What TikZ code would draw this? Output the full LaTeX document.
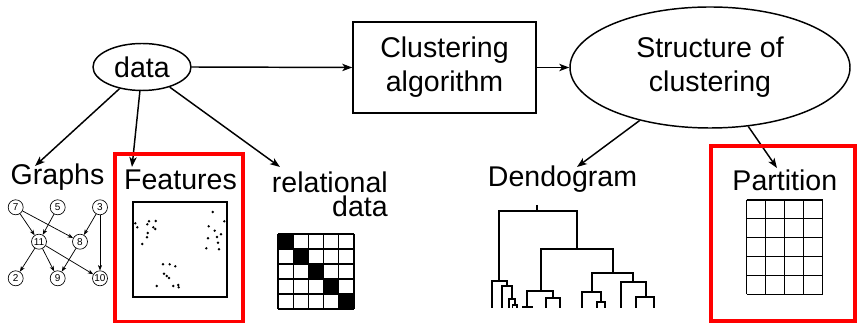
\documentclass[tikz,border=0pt]{standalone}
\usepackage{fontspec}
\setmainfont{Liberation Sans}
\usetikzlibrary{shapes.geometric,arrows.meta}
\begin{document}
\begin{tikzpicture}[x=0.75pt,y=-0.75pt,
  big/.style={font=\fontsize{21.4}{25.5}\selectfont, inner sep=0pt},
  flow/.style={line width=1.1pt, -{Stealth[length=7.5pt,width=5.5pt,inset=2pt]}},
  gnode/.style={circle, draw, line width=0.5pt, minimum size=11.25pt, inner sep=0pt,
                font=\fontsize{7.5}{9}\selectfont},
  gedge/.style={line width=0.55pt, -{Stealth[length=4pt,width=3pt,inset=1pt]}},
  hilite/.style={draw=red, line width=3pt},
  tree/.style={line width=1.3pt},
  grid/.style={line width=0.9pt}
]
\useasboundingbox (0,0) rectangle (860,323);

% ---- top row: pipeline ----
\node[big, ellipse, draw, line width=1.1pt, minimum width=73.5pt, minimum height=35.25pt]
  (data) at (142,67) {data};
\node[big, draw, line width=1.1pt, minimum width=137.25pt, minimum height=68.25pt, align=center]
  (algo) at (444.5,67.5) {Clustering\\algorithm};
\node[big, ellipse, draw, line width=1.1pt, minimum width=210pt, minimum height=90.75pt, align=center]
  (struct) at (710,67.5) {Structure of\\clustering};

\draw[flow] (data.east) -- (algo.west);
\draw[flow] (algo.east) -- (struct.west);

% ---- data representations ----
\node[big, anchor=base] (graphs) at (57.5,185) {Graphs};
\node[big, anchor=base] (features) at (180.5,190) {Features};
\node[big, align=right, font=\fontsize{21.4}{18.5}\selectfont, anchor=base east]
  (rel) at (388,217) {relational\\data};

\coordinate (tipG) at (35,166);
\coordinate (tipF) at (132,167);
\coordinate (tipR) at (280,167);
\draw[flow] (data.224) -- (tipG);
\draw[flow] (data.265) -- (tipF);
\draw[flow] (data.-36) -- (tipR);

% ---- clustering structures ----
\node[big, anchor=base] (dendo) at (562.5,187) {Dendogram};
\node[big, anchor=base] (part) at (784.8,190.7) {Partition};
\coordinate (tipD) at (577,167);
\coordinate (tipP) at (777,168);
\draw[flow] (struct.217) -- (tipD);
\draw[flow] (struct.-57) -- (tipP);

% ---- highlight frames ----
\draw[hilite] (114.7,154.5) rectangle (242.8,322);
\draw[hilite] (711,146.2) rectangle (855,321.2);

% ---- small directed graph ----
\node[gnode] (g7)  at (15.7,207.3) {7};
\node[gnode] (g5)  at (57.7,207.3) {5};
\node[gnode] (g3)  at (100,207.3) {3};
\node[gnode] (g11) at (39,241.7) {11};
\node[gnode] (g8)  at (80,241.7) {8};
\node[gnode] (g2)  at (15.7,278.3) {2};
\node[gnode] (g9)  at (57.7,278.3) {9};
\node[gnode] (g10) at (100,278.3) {10};
\draw[gedge] (g7) -- (g11);
\draw[gedge] (g7) -- (g8);
\draw[gedge] (g5) -- (g11);
\draw[gedge] (g3) -- (g8);
\draw[gedge] (g3) -- (g10);
\draw[gedge] (g11) -- (g2);
\draw[gedge] (g11) -- (g9);
\draw[gedge] (g11) -- (g10);
\draw[gedge] (g8) -- (g9);

% ---- feature scatter plot ----
\draw[line width=1pt] (133,202) rectangle (227,297);
\foreach \px/\py in {135.3/223.3, 137.3/227.3, 147.3/224.3, 149/221.3, 155.7/221,
    153.3/227.3, 155.3/229, 147.7/233, 147/237.3, 142.3/244,
    212.7/212, 224.3/221.3, 208.7/226.3, 214.7/230.7, 221/234.3, 217/237,
    208/238.3, 218/242.7, 206.3/248.3, 219/249.3,
    163/264.3, 169.7/264.3, 175.3/266.3, 164/273.7, 166.7/276, 169/278,
    156.7/286, 173.3/286, 178.3/285, 178.7/287.3}
  \fill (\px,\py) circle[radius=1pt];

% ---- relational (similarity) matrix ----
\foreach \i in {0,...,4}
  \fill (278+15.2*\i,234+15*\i) rectangle ++(15.2,15);
\foreach \i in {0,...,5} {
  \draw[grid] (278,234+15*\i) -- (354,234+15*\i);
  \draw[grid] (278+15.2*\i,234) -- (278+15.2*\i,309);
}

% ---- partition grid ----
\foreach \i in {0,...,5}
  \draw[grid] (746.7,200+18.86*\i) -- (822.7,200+18.86*\i);
\foreach \i in {0,...,4}
  \draw[grid] (746.7+19*\i,200) -- (746.7+19*\i,294.3);

% ---- dendrogram ----
\draw[tree] (537.3,205) -- (537.3,211);
\draw[tree] (499,280.7) -- (499,211) -- (576.7,211) -- (576.7,249.3);
% left branch
\draw[tree] (491.7,308) -- (491.7,280.7) -- (506.7,280.7) -- (506.7,286);
\draw[tree] (502.3,308) -- (502.3,286) -- (512.3,286) -- (512.3,299);
\draw[tree] (509,308) -- (509,299) -- (515,299) -- (515,305);
\draw[tree] (512.5,308) -- (512.5,305) -- (517,305) -- (517,308);
% middle branch
\draw[tree] (541,290.7) -- (541,249.3) -- (612.7,249.3) -- (612.7,272.7);
\draw[tree] (526.7,307.3) -- (526.7,290.7) -- (552.7,290.7) -- (552.7,297.7);
\draw[tree] (522.7,308) -- (522.7,307.3) -- (531.7,307.3) -- (531.7,308);
\draw[tree] (546,308) -- (546,297.7) -- (560,297.7) -- (560,308);
% right branch
\draw[tree] (591.7,292.3) -- (591.7,272.7) -- (632.7,272.7) -- (632.7,282.3);
\draw[tree] (582.3,308) -- (582.3,292.3) -- (601,292.3) -- (601,302.3);
\draw[tree] (597.3,308) -- (597.3,302.3) -- (605,302.3) -- (605,308);
\draw[tree] (621,308) -- (621,282.3) -- (645.7,282.3) -- (645.7,296.7);
\draw[tree] (635.7,308) -- (635.7,296.7) -- (654,296.7) -- (654,308);
\end{tikzpicture}
\end{document}
